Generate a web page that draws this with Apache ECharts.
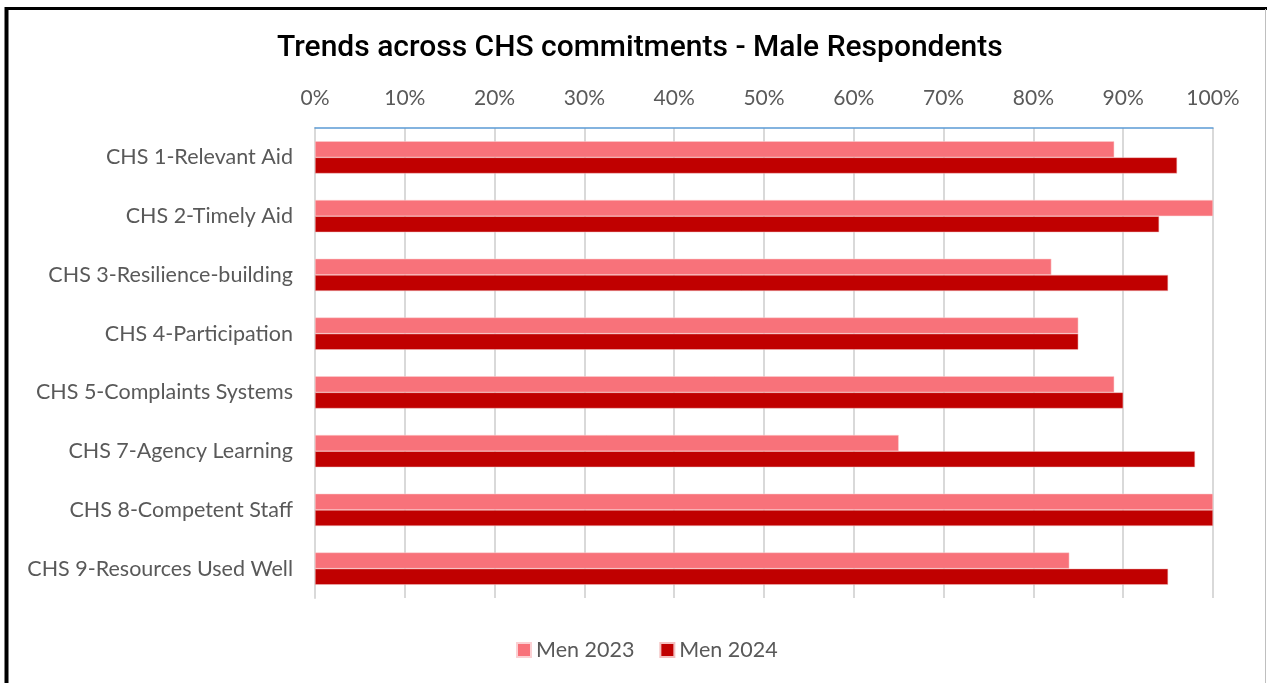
<!DOCTYPE html>
<html>
<head>
<meta charset="utf-8">
<script src="https://cdn.jsdelivr.net/npm/echarts@6/dist/echarts.min.js"></script>
<style>html,body{margin:0;padding:0;background:#fff}#c{width:1267px;height:683px}</style>
</head>
<body>
<div id="c"></div>
<script>
const categories = ["CHS 1-Relevant Aid","CHS 2-Timely Aid","CHS 3-Resilience-building","CHS 4-Participation","CHS 5-Complaints Systems","CHS 7-Agency Learning","CHS 8-Competent Staff","CHS 9-Resources Used Well"];
const men2023 = [89,100,82,85,89,65,100,84];
const men2024 = [96,94,95,85,90,98,100,95];
const seriesNames = ["Men 2023","Men 2024"];
const titleText = "Trends across CHS commitments - Male Respondents";

const chart = echarts.init(document.getElementById('c'), null, {renderer:'canvas'});
const labelFont = 'Lato';
chart.setOption({
  animation:false,
  backgroundColor:'#fff',
  title:{text:titleText,left:272,top:28,textStyle:{fontFamily:'Roboto',fontSize:30,fontWeight:500,color:'#000'}},
  legend:{bottom:17,left:511,itemWidth:14,itemHeight:14,itemGap:25,icon:'rect',
    textStyle:{fontFamily:labelFont,fontSize:21.5,color:'#595959',padding:[0,0,0,0]},data:seriesNames},
  grid:{left:315,right:54,top:128,bottom:85,containLabel:false},
  xAxis:{type:'value',position:'top',min:0,max:100,interval:10,
    axisLine:{show:true,lineStyle:{color:'#5B9BD5',width:1.5}},
    axisTick:{show:false},
    axisLabel:{formatter:'{value}%',fontFamily:labelFont,fontSize:21,color:'#595959',margin:19},
    splitLine:{show:true,lineStyle:{color:'#D9D9D9',width:2}}},
  yAxis:{type:'category',data:categories,inverse:true,
    axisLine:{show:true,lineStyle:{color:'#D9D9D9',width:2}},
    axisTick:{show:false},
    axisLabel:{fontFamily:labelFont,fontSize:21.5,color:'#595959',margin:22}},
  series:[
    {name:seriesNames[0],type:'bar',data:men2023,barGap:'0%',barCategoryGap:'45%',
      itemStyle:{color:'#F8727A',borderColor:'#FBD0D3',borderWidth:0.5}},
    {name:seriesNames[1],type:'bar',data:men2024,barGap:'0%',barCategoryGap:'45%',
      itemStyle:{color:'#C00000',borderColor:'#F3C0C0',borderWidth:0.5}}
  ],
  graphic:[
    {type:'line',shape:{x1:6,y1:8.5,x2:1267,y2:8.5},style:{stroke:'#000',lineWidth:3},z:100},
    {type:'line',shape:{x1:6.5,y1:7,x2:6.5,y2:683},style:{stroke:'#000',lineWidth:4},z:100},
    {type:'line',shape:{x1:1265.5,y1:9,x2:1265.5,y2:683},style:{stroke:'#BFBFBF',lineWidth:1},z:100}
  ]
});
</script>
</body>
</html>
